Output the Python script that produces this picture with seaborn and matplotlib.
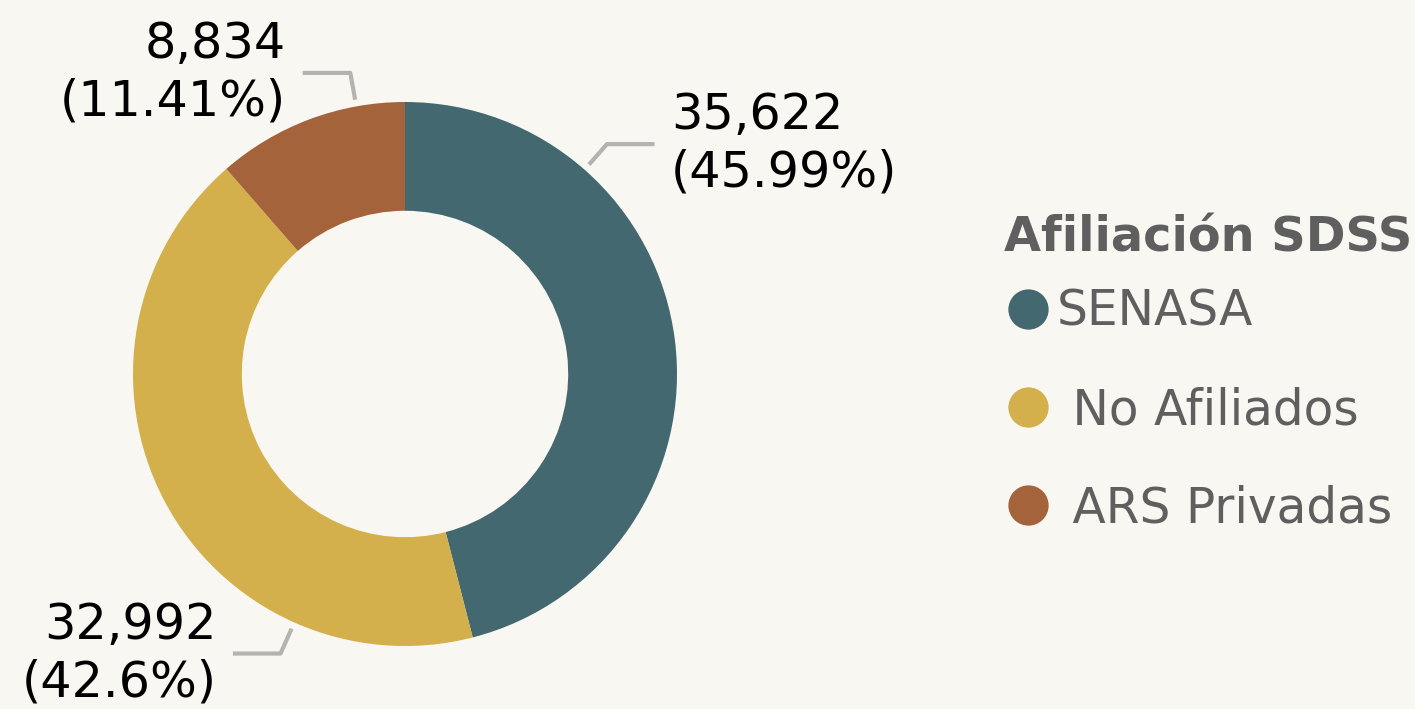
import numpy as np
import seaborn as sns
import matplotlib.pyplot as plt
from matplotlib.lines import Line2D

# datos
categorias = ["SENASA", " No Afiliados", " ARS Privadas"]
valores = [35622, 32992, 8834]
colores = ["#436870", "#D3B04C", "#A4633A"]
titulo_leyenda = "Afiliación SDSS"

# angulos (grados) donde sale la linea guia de cada categoria
angulos_guia = [48.7, 246.0, 100.3]

fondo = "#F8F7F2"
sns.set_theme(style="white", rc={"figure.facecolor": fondo, "axes.facecolor": fondo})
plt.rcParams["font.family"] = ["DejaVu Sans"]

W, H = 1415, 709
fig = plt.figure(figsize=(W / 100, H / 100), dpi=100)

# eje cuadrado: radio 1 = 272 px, centro en (405, 374)
R = 272
L = 1.4
lado = 2 * L * R
cx, cy = 405, H - 374
ax = fig.add_axes([(cx - lado / 2) / W, (cy - lado / 2) / H, lado / W, lado / H])

wedges, _ = ax.pie(valores, colors=colores, startangle=90, counterclock=False,
                   radius=1, wedgeprops=dict(width=0.4, linewidth=0))
ax.set_xlim(-L, L)
ax.set_ylim(-L, L)
ax.set_aspect("equal")
ax.axis("off")

total = sum(valores)
for v, ang in zip(valores, angulos_guia):
    pct = round(v / total * 100, 2)
    texto = f"{v:,}\n({pct:g}%)"
    a = np.deg2rad(ang)
    x0, y0 = 1.025 * np.cos(a), 1.025 * np.sin(a)
    x1, y1 = 1.125 * np.cos(a), 1.125 * np.sin(a)
    lado_x = 1 if np.cos(a) > 0 else -1
    x2 = x1 + lado_x * 0.175
    ax.plot([x0, x1, x2], [y0, y1, y1], color="#B3B3B0", lw=3, clip_on=False,
            solid_capstyle="butt")
    ax.text(x2 + lado_x * 0.06, y1, texto, ha="left" if lado_x > 0 else "right",
            va="center", multialignment="left" if lado_x > 0 else "right",
            fontsize=35.5, color="black", linespacing=1.25)

gris = "#5F5F5F"
fig.text(1004 / W, 1 - 251 / H, titulo_leyenda, ha="left", va="baseline",
         fontsize=34.5, fontweight="bold", color=gris)

handles = [Line2D([0], [0], marker="o", linestyle="", markersize=29,
                  markerfacecolor=c, markeredgewidth=0) for c in colores]
leg = fig.legend(handles, categorias, loc="upper left",
                 bbox_to_anchor=(1008 / W, 1 - 288 / H), frameon=False,
                 fontsize=35, handlelength=0.83, handletextpad=0.17,
                 labelspacing=1.03, borderpad=0, borderaxespad=0)
for t in leg.get_texts():
    t.set_color(gris)

fig.savefig("out.png", dpi=100, facecolor=fondo)
